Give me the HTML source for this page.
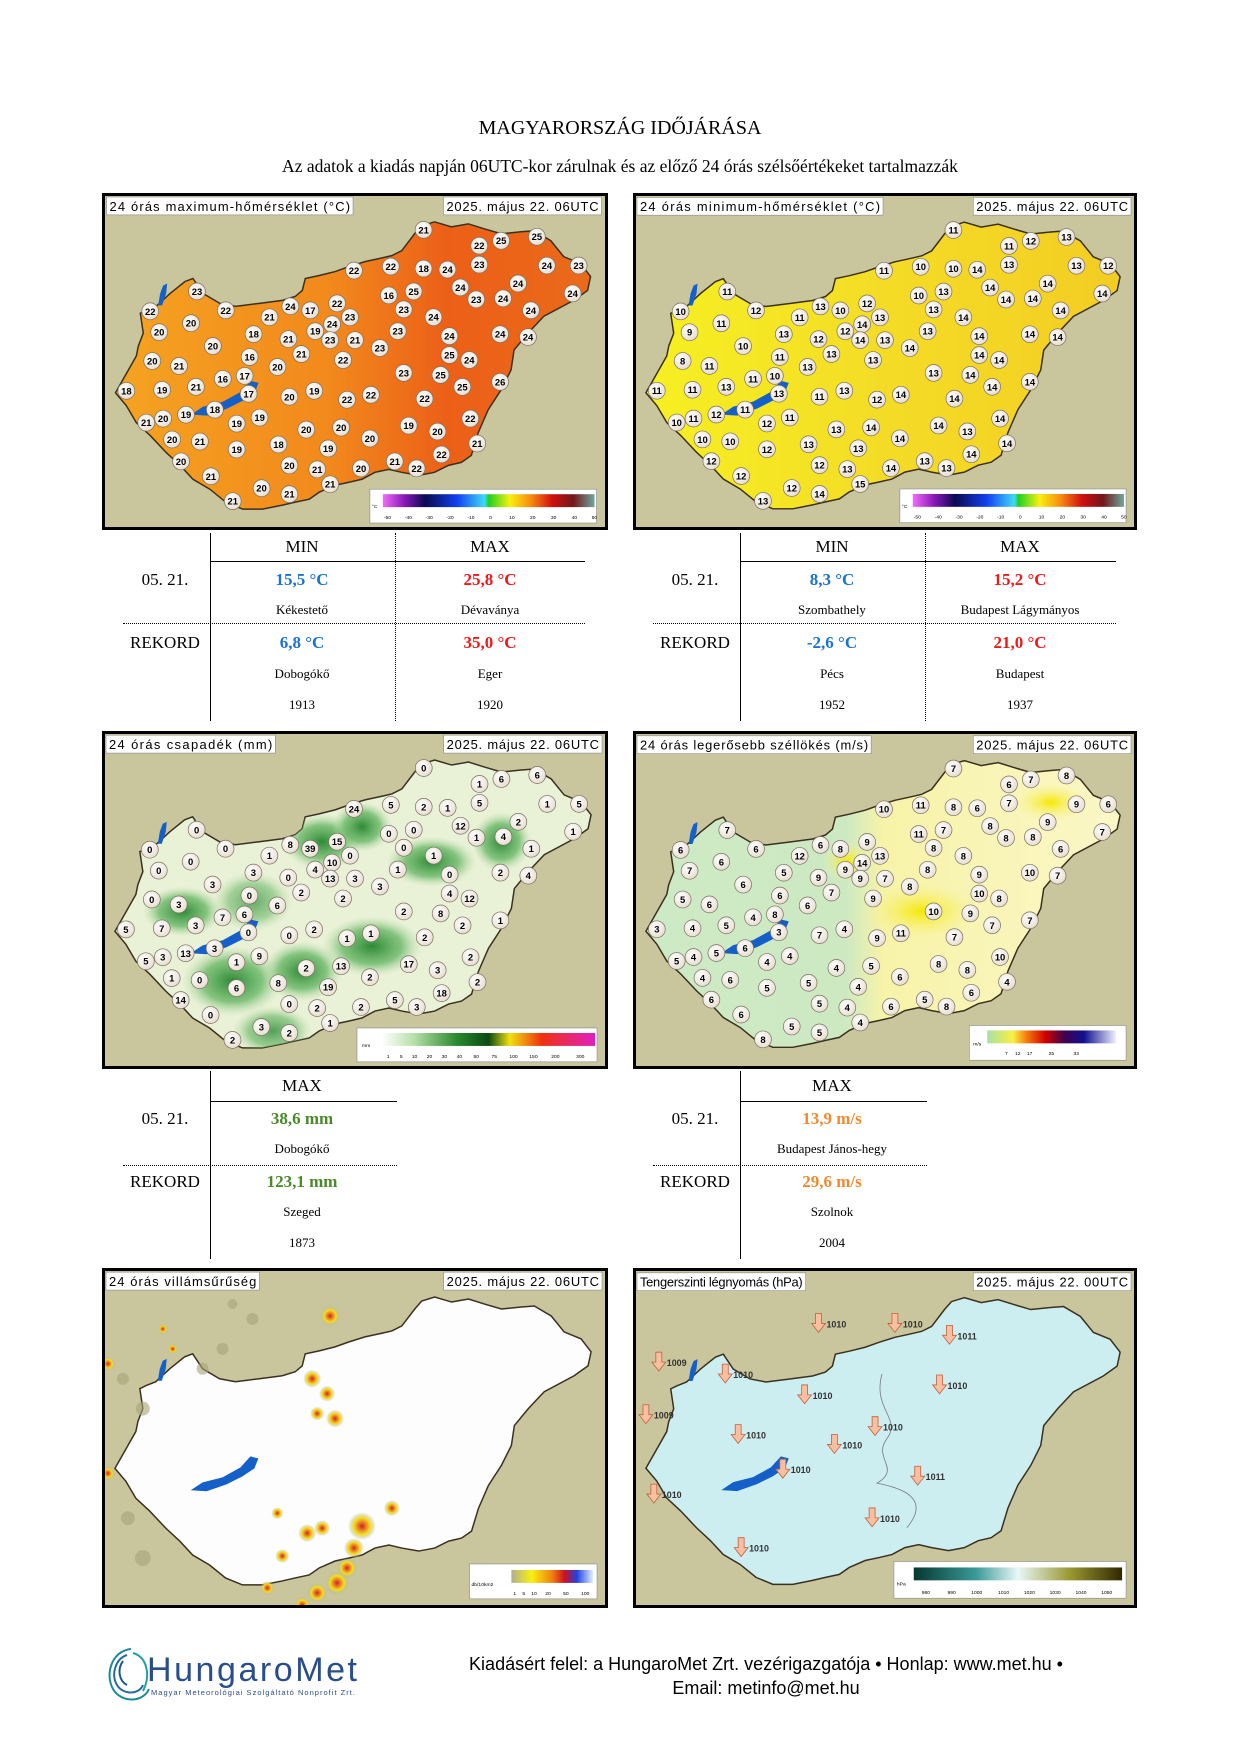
<!DOCTYPE html>
<html><head><meta charset="utf-8">
<style>
html,body{margin:0;padding:0;background:#fff}
body{width:1241px;height:1754px;position:relative;overflow:hidden;font-family:"Liberation Serif",serif;color:#000}
.a{position:absolute;white-space:nowrap}
.c{transform:translateX(-50%);text-align:center}
.map{position:absolute;box-sizing:border-box;border:3px solid #000;background:#c9c59d;overflow:hidden}
.map svg{display:block}
.t{font-size:17px}
.s{font-size:13px}
.hl{position:absolute;height:0;border-top:1px solid #000}
.dl{position:absolute;height:0;border-top:1px dotted #000}
.vl{position:absolute;width:0;border-left:1px solid #000}
.vd{position:absolute;width:0;border-left:1px dotted #000}
.b{font-weight:bold}
</style></head><body>
<svg width="0" height="0" style="position:absolute">
<defs>
<path id="hu" d="M12,200 L33,163 35,153 40,140 37,120 43,117 53,113 67,100 82,88 90,85 100,100 117,110 133,113 157,110 180,107 193,103 200,97 203,85 217,82 233,78 247,73 263,68 277,65 290,62 300,57 313,40 320,32 333,28 350,33 367,30 383,35 400,40 420,38 433,37 450,47 463,63 480,70 490,83 487,97 473,107 443,123 427,140 413,157 410,177 400,197 387,217 377,240 370,263 360,270 347,273 333,280 317,283 300,280 287,277 273,280 260,287 247,290 233,293 217,300 207,307 193,310 180,313 160,317 140,317 123,310 107,297 90,287 77,273 63,260 47,243 33,230 23,213 Z"/>
<clipPath id="huc"><use href="#hu"/></clipPath>
<path id="bal" d="M88,222 L100,214 120,209 138,199 148,188 156,190 152,200 140,208 124,216 104,223 Z" fill="#1560c8"/>
<path id="neu" d="M55,112 L57,100 60,92 64,90 63,100 59,112 Z" fill="#1560c8"/>
<linearGradient id="g1" x1="0" x2="1" y1="0" y2="0"><stop offset="0" stop-color="#f5a321"/><stop offset="0.45" stop-color="#f2891c"/><stop offset="0.7" stop-color="#ec5f17"/><stop offset="1" stop-color="#ea6a1a"/></linearGradient>
<linearGradient id="g2" x1="0" x2="1" y1="0" y2="0"><stop offset="0" stop-color="#f6f022"/><stop offset="0.5" stop-color="#f4dc26"/><stop offset="1" stop-color="#f3cd22"/></linearGradient>
<linearGradient id="g4" x1="0" x2="1" y1="0" y2="0"><stop offset="0" stop-color="#cdeac6"/><stop offset="0.42" stop-color="#cde9c2"/><stop offset="0.5" stop-color="#f7f3a8"/><stop offset="1" stop-color="#fbf7c8"/></linearGradient>
<linearGradient id="lt" x1="0" x2="1"><stop offset="0" stop-color="#f06cf8"/><stop offset="0.1" stop-color="#8a1ab8"/><stop offset="0.2" stop-color="#0a0a50"/><stop offset="0.35" stop-color="#1040f0"/><stop offset="0.48" stop-color="#40d8f8"/><stop offset="0.5" stop-color="#20d020"/><stop offset="0.6" stop-color="#f8f010"/><stop offset="0.7" stop-color="#f88a10"/><stop offset="0.8" stop-color="#d01010"/><stop offset="0.9" stop-color="#701818"/><stop offset="1" stop-color="#70a8a0"/></linearGradient>
<linearGradient id="lp" x1="0" x2="1"><stop offset="0" stop-color="#fff"/><stop offset="0.15" stop-color="#b8e0a8"/><stop offset="0.35" stop-color="#2a8a30"/><stop offset="0.5" stop-color="#0a4a10"/><stop offset="0.6" stop-color="#f0e010"/><stop offset="0.75" stop-color="#f03010"/><stop offset="1" stop-color="#e020c0"/></linearGradient>
<linearGradient id="lw" x1="0" x2="1"><stop offset="0" stop-color="#a8e0a8"/><stop offset="0.2" stop-color="#f8f040"/><stop offset="0.3" stop-color="#f88010"/><stop offset="0.45" stop-color="#d00000"/><stop offset="0.6" stop-color="#400050"/><stop offset="0.75" stop-color="#101090"/><stop offset="1" stop-color="#f0f0ff"/></linearGradient>
<linearGradient id="ll" x1="0" x2="1"><stop offset="0" stop-color="#b0b090"/><stop offset="0.25" stop-color="#f8f010"/><stop offset="0.5" stop-color="#f08010"/><stop offset="0.65" stop-color="#d01020"/><stop offset="0.8" stop-color="#2040e0"/><stop offset="1" stop-color="#e0f0ff"/></linearGradient>
<linearGradient id="lh" x1="0" x2="1"><stop offset="0" stop-color="#043830"/><stop offset="0.3" stop-color="#3a9a98"/><stop offset="0.5" stop-color="#e8f8f8"/><stop offset="0.75" stop-color="#9a9830"/><stop offset="1" stop-color="#302800"/></linearGradient>
<radialGradient id="cg" cx="0.4" cy="0.35" r="0.7"><stop offset="0" stop-color="#fff"/><stop offset="1" stop-color="#e6dccf"/></radialGradient>
<radialGradient id="gr" ><stop offset="0" stop-color="#2e8a36"/><stop offset="0.6" stop-color="#6ab868" stop-opacity="0.8"/><stop offset="1" stop-color="#b8dcaa" stop-opacity="0"/></radialGradient>
<radialGradient id="yl"><stop offset="0" stop-color="#f6e800"/><stop offset="1" stop-color="#f8f3a0" stop-opacity="0"/></radialGradient>
<radialGradient id="ls"><stop offset="0" stop-color="#d02030"/><stop offset="0.35" stop-color="#f09020"/><stop offset="0.6" stop-color="#f0e020"/><stop offset="1" stop-color="#b0b0a0" stop-opacity="0"/></radialGradient>
</defs></svg>

<div class="a c" style="left:620px;top:117px;font-size:20px">MAGYARORSZÁG IDŐJÁRÁSA</div>
<div class="a c" style="left:620px;top:156px;font-size:17.5px">Az adatok a kiadás napján 06UTC-kor zárulnak és az előző 24 órás szélsőértékeket tartalmazzák</div>

<!-- MAP 1 -->
<div class="map" style="left:102px;top:193px;width:506px;height:337px"><svg id="m1" width="500" height="331" viewBox="2 2 502 333">
<use href="#hu" fill="url(#g1)" stroke="#3a3020" stroke-width="1.5"/>
<use href="#bal"/><use href="#neu"/>
<g class="pts"></g>
<rect x="3" y="3" width="248" height="18" fill="#fff" stroke="#888" stroke-width=".6"/><text x="6" y="17" font-family="Liberation Sans" font-size="13" textLength="242">24 órás maximum-hőmérséklet (°C)</text>
<rect x="342" y="3" width="159" height="18" fill="#fff" stroke="#888" stroke-width=".6"/><text x="345" y="17" font-family="Liberation Sans" font-size="13" textLength="153">2025. május 22. 06UTC</text>
<rect x="268" y="297" width="228" height="34" fill="#fff" stroke="#888" stroke-width=".6"/><rect x="281" y="302" width="213" height="13" fill="url(#lt)"/>
<text x="270" y="316" font-size="5" font-family="Liberation Sans">°C</text>
<text y="327" font-size="5" font-family="Liberation Sans"><tspan x="282">-50</tspan><tspan x="303">-40</tspan><tspan x="324">-30</tspan><tspan x="345">-20</tspan><tspan x="366">-10</tspan><tspan x="388">0</tspan><tspan x="408">10</tspan><tspan x="429">20</tspan><tspan x="450">30</tspan><tspan x="471">40</tspan><tspan x="491">50</tspan></text>
</svg></div>

<!-- MAP 2 -->
<div class="map" style="left:633px;top:193px;width:504px;height:337px"><svg id="m2" width="498" height="331" viewBox="2 2 502 333">
<use href="#hu" fill="url(#g2)" stroke="#3a3020" stroke-width="1.5"/>
<use href="#bal"/><use href="#neu"/>
<g class="pts"></g>
<rect x="3" y="3" width="248" height="18" fill="#fff" stroke="#888" stroke-width=".6"/><text x="6" y="17" font-family="Liberation Sans" font-size="13" textLength="242">24 órás minimum-hőmérséklet (°C)</text>
<rect x="342" y="3" width="159" height="18" fill="#fff" stroke="#888" stroke-width=".6"/><text x="345" y="17" font-family="Liberation Sans" font-size="13" textLength="153">2025. május 22. 06UTC</text>
<rect x="268" y="297" width="228" height="34" fill="#fff" stroke="#888" stroke-width=".6"/><rect x="281" y="302" width="213" height="13" fill="url(#lt)"/>
<text x="270" y="316" font-size="5" font-family="Liberation Sans">°C</text>
<text y="327" font-size="5" font-family="Liberation Sans"><tspan x="282">-50</tspan><tspan x="303">-40</tspan><tspan x="324">-30</tspan><tspan x="345">-20</tspan><tspan x="366">-10</tspan><tspan x="388">0</tspan><tspan x="408">10</tspan><tspan x="429">20</tspan><tspan x="450">30</tspan><tspan x="471">40</tspan><tspan x="491">50</tspan></text>
</svg></div>

<!-- TABLE 1 left -->
<div class="vl" style="left:210px;top:533px;height:188px"></div>
<div class="vd" style="left:395px;top:533px;height:188px"></div>
<div class="hl" style="left:210px;top:561px;width:375px"></div>
<div class="dl" style="left:123px;top:623px;width:462px"></div>
<div class="a c t" style="left:302px;top:537px">MIN</div>
<div class="a c t" style="left:490px;top:537px">MAX</div>
<div class="a c t" style="left:165px;top:570px">05. 21.</div>
<div class="a c t b" style="left:302px;top:570px;color:#1a74d0">15,5 °C</div>
<div class="a c t b" style="left:490px;top:570px;color:#f01818">25,8 °C</div>
<div class="a c s" style="left:302px;top:602px">Kékestető</div>
<div class="a c s" style="left:490px;top:602px">Dévaványa</div>
<div class="a c t" style="left:165px;top:633px">REKORD</div>
<div class="a c t b" style="left:302px;top:633px;color:#1a74d0">6,8 °C</div>
<div class="a c t b" style="left:490px;top:633px;color:#f01818">35,0 °C</div>
<div class="a c s" style="left:302px;top:666px">Dobogókő</div>
<div class="a c s" style="left:490px;top:666px">Eger</div>
<div class="a c s" style="left:302px;top:697px">1913</div>
<div class="a c s" style="left:490px;top:697px">1920</div>

<!-- TABLE 1 right -->
<div class="vl" style="left:740px;top:533px;height:188px"></div>
<div class="vd" style="left:925px;top:533px;height:188px"></div>
<div class="hl" style="left:740px;top:561px;width:376px"></div>
<div class="dl" style="left:653px;top:623px;width:463px"></div>
<div class="a c t" style="left:832px;top:537px">MIN</div>
<div class="a c t" style="left:1020px;top:537px">MAX</div>
<div class="a c t" style="left:695px;top:570px">05. 21.</div>
<div class="a c t b" style="left:832px;top:570px;color:#1a74d0">8,3 °C</div>
<div class="a c t b" style="left:1020px;top:570px;color:#f01818">15,2 °C</div>
<div class="a c s" style="left:832px;top:602px">Szombathely</div>
<div class="a c s" style="left:1020px;top:602px">Budapest Lágymányos</div>
<div class="a c t" style="left:695px;top:633px">REKORD</div>
<div class="a c t b" style="left:832px;top:633px;color:#1a74d0">-2,6 °C</div>
<div class="a c t b" style="left:1020px;top:633px;color:#f01818">21,0 °C</div>
<div class="a c s" style="left:832px;top:666px">Pécs</div>
<div class="a c s" style="left:1020px;top:666px">Budapest</div>
<div class="a c s" style="left:832px;top:697px">1952</div>
<div class="a c s" style="left:1020px;top:697px">1937</div>

<!-- MAP 3 -->
<div class="map" style="left:102px;top:731px;width:506px;height:338px"><svg id="m3" width="500" height="332" viewBox="2 2 502 333">
<use href="#hu" fill="#e9f1d6" stroke="#3a3020" stroke-width="1.5"/>
<g clip-path="url(#huc)">
<ellipse cx="220" cy="110" rx="40" ry="28" fill="url(#gr)"/>
<ellipse cx="260" cy="95" rx="30" ry="25" fill="url(#gr)"/>
<ellipse cx="330" cy="130" rx="45" ry="25" fill="url(#gr)"/>
<ellipse cx="400" cy="110" rx="30" ry="30" fill="url(#gr)"/>
<ellipse cx="130" cy="250" rx="50" ry="35" fill="url(#gr)"/>
<ellipse cx="200" cy="240" rx="40" ry="30" fill="url(#gr)"/>
<ellipse cx="270" cy="215" rx="50" ry="30" fill="url(#gr)"/>
<ellipse cx="80" cy="180" rx="40" ry="25" fill="url(#gr)"/>
<ellipse cx="150" cy="170" rx="40" ry="30" fill="url(#gr)" opacity=".7"/>
<ellipse cx="170" cy="300" rx="40" ry="25" fill="url(#gr)" opacity=".8"/>
</g>
<use href="#bal"/><use href="#neu"/>
<g class="pts"></g>
<rect x="3" y="3" width="170" height="18" fill="#fff" stroke="#888" stroke-width=".6"/><text x="6" y="17" font-family="Liberation Sans" font-size="13" textLength="164">24 órás csapadék (mm)</text>
<rect x="342" y="3" width="159" height="18" fill="#fff" stroke="#888" stroke-width=".6"/><text x="345" y="17" font-family="Liberation Sans" font-size="13" textLength="153">2025. május 22. 06UTC</text>
<rect x="255" y="297" width="241" height="34" fill="#fff" stroke="#888" stroke-width=".6"/><rect x="280" y="302" width="214" height="13" fill="url(#lp)"/>
<text x="260" y="316" font-size="5" font-family="Liberation Sans">mm</text>
<text y="327" font-size="5" font-family="Liberation Sans"><tspan x="285">1</tspan><tspan x="298">5</tspan><tspan x="310">10</tspan><tspan x="325">20</tspan><tspan x="340">30</tspan><tspan x="355">40</tspan><tspan x="372">50</tspan><tspan x="390">75</tspan><tspan x="408">100</tspan><tspan x="428">150</tspan><tspan x="450">200</tspan><tspan x="475">300</tspan></text>
</svg></div>

<!-- MAP 4 -->
<div class="map" style="left:633px;top:731px;width:504px;height:338px"><svg id="m4" width="498" height="332" viewBox="2 2 502 333">
<use href="#hu" fill="url(#g4)" stroke="#3a3020" stroke-width="1.5"/>
<g clip-path="url(#huc)">
<ellipse cx="290" cy="180" rx="60" ry="30" fill="url(#yl)"/>
<ellipse cx="215" cy="130" rx="25" ry="20" fill="url(#yl)"/>
<ellipse cx="420" cy="70" rx="40" ry="20" fill="url(#yl)"/>
</g>
<use href="#bal"/><use href="#neu"/>
<g class="pts"></g>
<rect x="3" y="3" width="236" height="18" fill="#fff" stroke="#888" stroke-width=".6"/><text x="6" y="17" font-family="Liberation Sans" font-size="13" textLength="230">24 órás legerősebb széllökés (m/s)</text>
<rect x="342" y="3" width="159" height="18" fill="#fff" stroke="#888" stroke-width=".6"/><text x="345" y="17" font-family="Liberation Sans" font-size="13" textLength="153">2025. május 22. 06UTC</text>
<rect x="338" y="295" width="158" height="35" fill="#fff" stroke="#888" stroke-width=".6"/><rect x="356" y="300" width="130" height="13" fill="url(#lw)"/>
<text x="342" y="315" font-size="5" font-family="Liberation Sans">m/s</text>
<text y="325" font-size="5" font-family="Liberation Sans"><tspan x="374">7</tspan><tspan x="384">12</tspan><tspan x="396">17</tspan><tspan x="418">25</tspan><tspan x="443">33</tspan></text>
</svg></div>

<!-- TABLE 2 left -->
<div class="vl" style="left:210px;top:1071px;height:188px"></div>
<div class="hl" style="left:210px;top:1101px;width:187px"></div>
<div class="dl" style="left:123px;top:1165px;width:274px"></div>
<div class="a c t" style="left:302px;top:1076px">MAX</div>
<div class="a c t" style="left:165px;top:1109px">05. 21.</div>
<div class="a c t b" style="left:302px;top:1109px;color:#4a8a2a">38,6 mm</div>
<div class="a c s" style="left:302px;top:1141px">Dobogókő</div>
<div class="a c t" style="left:165px;top:1172px">REKORD</div>
<div class="a c t b" style="left:302px;top:1172px;color:#4a8a2a">123,1 mm</div>
<div class="a c s" style="left:302px;top:1204px">Szeged</div>
<div class="a c s" style="left:302px;top:1235px">1873</div>

<!-- TABLE 2 right -->
<div class="vl" style="left:740px;top:1071px;height:188px"></div>
<div class="hl" style="left:740px;top:1101px;width:187px"></div>
<div class="dl" style="left:653px;top:1165px;width:274px"></div>
<div class="a c t" style="left:832px;top:1076px">MAX</div>
<div class="a c t" style="left:695px;top:1109px">05. 21.</div>
<div class="a c t b" style="left:832px;top:1109px;color:#f08a30">13,9 m/s</div>
<div class="a c s" style="left:832px;top:1141px">Budapest János-hegy</div>
<div class="a c t" style="left:695px;top:1172px">REKORD</div>
<div class="a c t b" style="left:832px;top:1172px;color:#f08a30">29,6 m/s</div>
<div class="a c s" style="left:832px;top:1204px">Szolnok</div>
<div class="a c s" style="left:832px;top:1235px">2004</div>

<!-- MAP 5 -->
<div class="map" style="left:102px;top:1268px;width:506px;height:340px"><svg width="500" height="334" viewBox="2 2 502 335">
<use href="#hu" fill="#fdfdfd" stroke="#3a3020" stroke-width="1.5"/>
<g fill="url(#ls)">
<circle cx="228" cy="47" r="10"/><circle cx="210" cy="110" r="9"/><circle cx="225" cy="125" r="8"/><circle cx="215" cy="145" r="7"/><circle cx="233" cy="150" r="9"/>
<circle cx="205" cy="265" r="9"/><circle cx="220" cy="260" r="8"/><circle cx="260" cy="258" r="14"/><circle cx="252" cy="280" r="10"/><circle cx="245" cy="300" r="10"/>
<circle cx="235" cy="315" r="12"/><circle cx="215" cy="325" r="10"/><circle cx="200" cy="337" r="8"/><circle cx="180" cy="288" r="7"/><circle cx="165" cy="320" r="7"/><circle cx="175" cy="245" r="6"/>
<circle cx="5" cy="95" r="7"/><circle cx="5" cy="205" r="7"/><circle cx="60" cy="60" r="5"/><circle cx="70" cy="80" r="5"/><circle cx="290" cy="240" r="8"/>
</g>
<g fill="#a8a478" opacity=".6"><circle cx="20" cy="110" r="6"/><circle cx="40" cy="140" r="7"/><circle cx="100" cy="100" r="6"/><circle cx="120" cy="80" r="6"/><circle cx="150" cy="50" r="6"/><circle cx="25" cy="250" r="7"/><circle cx="40" cy="290" r="8"/><circle cx="130" cy="35" r="5"/></g>
<use href="#bal"/><use href="#neu"/>
<rect x="3" y="3" width="154" height="18" fill="#fff" stroke="#888" stroke-width=".6"/><text x="6" y="17" font-family="Liberation Sans" font-size="13" textLength="148">24 órás villámsűrűség</text>
<rect x="342" y="3" width="159" height="18" fill="#fff" stroke="#888" stroke-width=".6"/><text x="345" y="17" font-family="Liberation Sans" font-size="13" textLength="153">2025. május 22. 06UTC</text>
<rect x="368" y="296" width="128" height="35" fill="#fff" stroke="#888" stroke-width=".6"/><rect x="410" y="302" width="82" height="13" fill="url(#ll)"/>
<text x="370" y="318" font-size="5" font-family="Liberation Sans">db/10km2</text>
<text y="327" font-size="5" font-family="Liberation Sans"><tspan x="412">1</tspan><tspan x="421">5</tspan><tspan x="430">10</tspan><tspan x="444">20</tspan><tspan x="462">50</tspan><tspan x="480">100</tspan></text>
</svg></div>

<!-- MAP 6 -->
<div class="map" style="left:633px;top:1268px;width:504px;height:340px"><svg id="m6" width="498" height="334" viewBox="2 2 502 335">
<use href="#hu" fill="#cdeef0" stroke="#3a3020" stroke-width="1.5"/>
<path d="M250,105 C240,140 270,150 255,170 C240,190 270,200 245,215 C270,220 300,230 275,260" fill="none" stroke="#778" stroke-width=".8"/>
<use href="#bal"/><use href="#neu"/>
<g id="arr" font-family="Liberation Sans" font-size="9" font-weight="bold"></g>
<rect x="3" y="3" width="170" height="18" fill="#fff" stroke="#888" stroke-width=".6"/><text x="6" y="17" font-family="Liberation Sans" font-size="13" textLength="164">Tengerszinti légnyomás (hPa)</text>
<rect x="342" y="3" width="159" height="18" fill="#fff" stroke="#888" stroke-width=".6"/><text x="345" y="17" font-family="Liberation Sans" font-size="13" textLength="153">2025. május 22. 00UTC</text>
<rect x="262" y="294" width="234" height="37" fill="#fff" stroke="#888" stroke-width=".6"/><rect x="282" y="300" width="210" height="13" fill="url(#lh)"/>
<text x="265" y="318" font-size="5" font-family="Liberation Sans">hPa</text>
<text y="327" font-size="5" font-family="Liberation Sans"><tspan x="290">980</tspan><tspan x="316">990</tspan><tspan x="340">1000</tspan><tspan x="367">1010</tspan><tspan x="393">1020</tspan><tspan x="419">1030</tspan><tspan x="445">1040</tspan><tspan x="471">1050</tspan></text>
</svg></div>

<!-- FOOTER -->
<svg class="a" style="left:103px;top:1645px" width="260" height="62" viewBox="0 0 260 62">
<g fill="none" stroke="#1a8a9a" stroke-width="2">
<path d="M28,4 C8,6 2,30 10,44 C18,58 40,58 46,44"/>
<path d="M24,10 C12,14 8,30 14,40 C20,50 36,50 40,40" stroke="#2a6a9a"/>
<path d="M30,8 C44,12 48,30 40,46" stroke="#22a0a0"/>
<path d="M20,16 C14,24 16,36 24,40" stroke="#1a5a8a"/>
</g>
<text x="44" y="36" font-family="Liberation Sans" font-size="34" fill="#2a4d8c" textLength="210">HungaroMet</text>
<text x="48" y="50" font-family="Liberation Sans" font-size="7.5" fill="#2a4d8c" textLength="204">Magyar Meteorológiai Szolgáltató Nonprofit Zrt.</text>
</svg>
<div class="a c" style="left:766px;top:1654px;font-family:'Liberation Sans Narrow','Liberation Sans',sans-serif;font-size:18px">Kiadásért felel: a HungaroMet Zrt. vezérigazgatója • Honlap: www.met.hu •</div>
<div class="a c" style="left:766px;top:1678px;font-family:'Liberation Sans Narrow','Liberation Sans',sans-serif;font-size:18px">Email: metinfo@met.hu</div>

<script>
var P=[[322,36,21],[378,52,22],[400,47,25],[436,43,25],[252,77,22],[289,73,22],[322,75,18],[346,76,24],[378,71,23],[446,72,24],[478,72,23],[417,90,24],[472,100,24],[359,94,24],[375,106,23],[402,105,24],[287,102,16],[312,98,25],[430,117,24],[302,116,23],[332,124,24],[94,98,23],[47,118,22],[123,117,22],[188,113,24],[208,117,17],[235,110,22],[167,124,21],[230,131,24],[248,124,23],[88,130,20],[56,139,20],[151,141,18],[213,138,19],[186,146,21],[228,147,23],[253,147,21],[296,138,23],[348,143,24],[399,141,24],[427,144,24],[110,153,20],[147,164,16],[199,161,21],[278,155,23],[348,162,25],[368,167,24],[49,168,20],[76,173,21],[175,174,20],[241,167,22],[302,180,23],[339,182,25],[399,189,26],[361,194,25],[120,186,16],[142,183,17],[23,198,18],[59,197,19],[93,194,21],[146,201,17],[187,204,20],[212,198,19],[245,207,22],[269,202,22],[323,206,22],[112,217,18],[83,222,19],[43,230,21],[60,226,20],[134,231,19],[157,225,19],[369,226,22],[204,237,20],[239,235,20],[307,233,19],[336,239,20],[268,246,20],[69,247,20],[97,249,21],[134,257,19],[176,252,18],[226,256,19],[376,251,21],[340,262,22],[78,269,20],[187,273,20],[215,277,21],[259,276,20],[293,269,21],[315,276,22],[108,284,21],[159,296,20],[228,292,21],[187,302,21],[130,309,21]];
var V2=[11,11,12,13,11,10,10,14,13,13,12,14,14,14,14,14,10,13,14,13,14,11,10,12,13,10,12,11,14,13,11,9,13,12,12,14,13,13,14,14,14,10,11,13,14,14,14,8,11,13,13,13,14,14,14,11,10,11,11,13,13,11,13,12,14,14,11,12,10,11,12,11,14,13,14,14,13,14,10,10,12,13,13,14,14,12,12,13,14,13,13,12,12,15,14,13];
var V3=[0,1,6,6,24,5,2,1,5,1,5,2,1,12,1,4,0,0,1,0,1,0,0,0,8,39,15,1,10,0,0,0,3,4,0,13,3,1,0,2,4,3,0,2,3,4,12,0,3,6,2,2,8,1,2,7,6,5,7,3,0,0,2,1,1,2,3,13,5,3,1,9,2,2,13,17,3,2,1,0,6,8,19,2,18,14,0,2,2,5,3,0,3,1,2,2];
var V4=[7,6,7,8,10,11,8,6,7,9,6,9,7,8,8,8,11,7,6,8,8,7,6,6,6,8,9,12,14,13,6,7,5,9,9,9,7,8,9,10,7,6,6,7,8,10,8,5,6,6,9,10,9,7,7,4,8,3,4,5,3,7,4,9,11,7,6,5,5,4,4,4,10,4,5,8,8,6,4,6,5,5,4,4,6,6,5,4,6,5,8,6,5,4,5,8];
function pts(id,vals){var g=document.querySelector('#'+id+' .pts'),h='';
P.forEach(function(p,i){h+='<circle cx="'+p[0]+'" cy="'+p[1]+'" r="8.5" fill="url(#cg)" stroke="#7a7060" stroke-width=".7"/><text x="'+p[0]+'" y="'+(p[1]+3.5)+'" text-anchor="middle" font-family="Liberation Sans" font-size="9.5" font-weight="bold">'+vals[i]+'</text>';});
g.innerHTML=h;}
pts('m1',P.map(function(p){return p[2]}));pts('m2',V2);pts('m3',V3);pts('m4',V4);
var A=[[186,56,'1010'],[263,56,'1010'],[318,68,'1011'],[25,95,'1009'],[92,107,'1010'],[172,128,'1010'],[12,148,'1009'],[243,160,'1010'],[105,168,'1010'],[202,178,'1010'],[286,210,'1011'],[20,228,'1010'],[150,203,'1010'],[240,252,'1010'],[108,282,'1010'],[308,118,'1010']];
var ah='';A.forEach(function(a){ah+='<path d="M'+(a[0]-3)+','+(a[1]-12)+' h6 v10 h4 l-7,9 l-7,-9 h4z" fill="#f8c0a0" stroke="#c06040" stroke-width=".8"/><text x="'+(a[0]+8)+'" y="'+(a[1]+2)+'" fill="#333">'+a[2]+'</text>';});
document.getElementById('arr').innerHTML=ah;
</script>
</body></html>
